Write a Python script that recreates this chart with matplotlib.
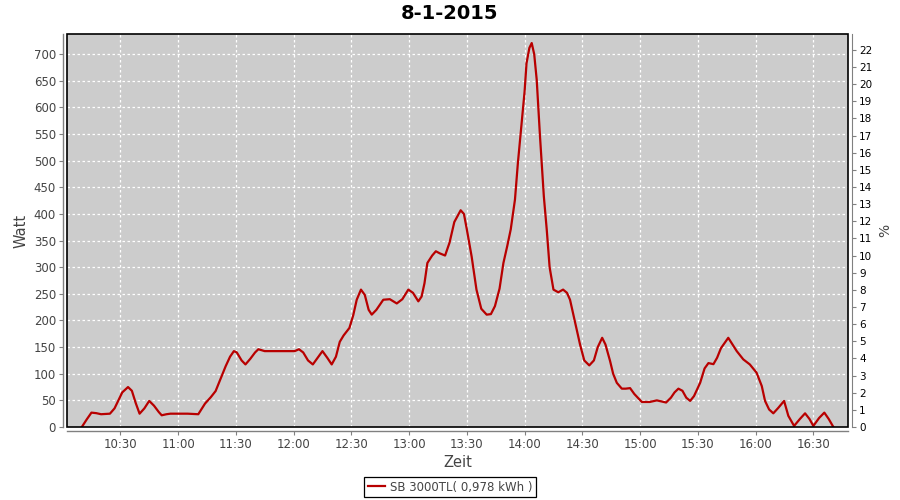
import matplotlib
matplotlib.use("Agg")
import matplotlib.pyplot as plt
from matplotlib.patches import Rectangle

# minutes after 10:00 and power in Watt
minutes = [10, 12.5, 15, 17.5, 20, 24.6, 27, 29, 31, 34, 36, 38, 40, 42.5, 45, 47.5, 50, 51.5,
           54, 56, 60, 65, 70.5, 74, 77, 79.5, 82, 84.7, 87, 89, 90.5, 93, 95, 97.5, 100, 101.7,
           105, 110, 115, 120.6, 122.8, 125, 127.5, 130, 132.5, 135, 137.5, 139.8, 142, 144, 146,
           149, 151, 152.8, 155, 157, 159, 160.6, 163, 166.6, 170, 173.6, 176.5, 179.6, 182,
           184.8, 186.5, 188, 189.5, 192, 193.9, 196, 198.7, 201, 203.5, 206.8, 208.5, 210,
           212.5, 215, 217.5, 220.3, 222.5, 224.6, 227, 229, 231, 232.8, 235, 236.5, 238.5, 240,
           241, 242.5, 243.7, 245, 246.3, 248, 250, 251.5, 253, 255, 257.5, 260, 262, 263.6, 266,
           268.8, 271, 273.6, 276, 278, 280.3, 282, 284.4, 286, 287.9, 290.5, 292.5, 294.8, 297,
           300.9, 305, 308.7, 311, 313.5, 316, 317.9, 319.9, 322, 324, 326, 328, 331.2, 333.5,
           335.5, 338.1, 340, 342, 345.8, 348, 350.2, 353.6, 357, 360.5, 363.2, 364.9, 367,
           369.2, 371.8, 374.8, 377, 380, 383, 385.7, 388, 390, 393, 395.7, 398, 400.4]
watt = [0, 14, 27, 26, 24, 25, 35, 50, 65, 75, 68, 45, 25, 35, 49, 40, 28, 22,
        24, 25, 25, 25, 24, 44, 56, 67.5, 90, 114, 132, 142.5, 140, 125, 117.5, 128, 140, 146,
        142.5, 142.5, 142.5, 142.5, 146, 140, 125, 117.5, 130, 142.5, 130, 117.5, 132, 160, 172,
        186, 210, 239, 258, 248, 220, 211, 220, 239, 240, 232, 240, 258, 252,
        236, 245, 270, 308, 322, 330, 326, 322, 346, 385, 407, 400, 371,
        320, 258, 222, 211, 212, 227, 260, 308, 340, 371, 427, 495, 571, 630,
        683, 712, 721, 700, 652, 546, 433, 371, 300, 258, 253, 258, 252, 239, 200,
        155, 125, 115.7, 125, 150, 167.5, 155, 124, 100, 83, 72, 72, 73, 62,
        47, 47, 50, 48, 46, 55, 65, 72, 68, 55, 49, 58, 83, 110,
        120, 118, 130, 148, 167.5, 155, 142.5, 127, 117.5, 102, 77, 49, 33,
        25.7, 36, 49, 21, 2, 15, 25.7, 15, 2, 17, 27, 15, 0]

tick_minutes = [30, 60, 90, 120, 150, 180, 210, 240, 270, 300, 330, 360, 390]
tick_labels = ["10:30", "11:00", "11:30", "12:00", "12:30", "13:00", "13:30",
               "14:00", "14:30", "15:00", "15:30", "16:00", "16:30"]
left_ticks = list(range(0, 701, 50))
right_ticks = list(range(0, 23))

title = "8-1-2015"
series_label = "SB 3000TL( 0,978 kWh )"

fig = plt.figure(figsize=(9, 5), dpi=100)
ax = fig.add_axes([67/900, 73/500, (848-67)/900, (427-34)/500])
ax.set_facecolor("#CCCCCC")
ax.plot(minutes, watt, color="#B80000", lw=1.6, label=series_label, zorder=3,
        solid_joinstyle="round")
ax.set_xlim(2.3, 408)
ax.set_ylim(0, 738)
ax.set_xticks(tick_minutes)
ax.set_xticklabels(tick_labels)
ax.set_yticks(left_ticks)
ax.grid(True, color="white", linestyle=(0, (2, 2)), linewidth=0.9)
ax.set_axisbelow(True)

for s in ["top", "right"]:
    ax.spines[s].set_visible(False)
for s in ["left", "bottom"]:
    ax.spines[s].set_position(("outward", 3))
    ax.spines[s].set_color("#808080")
    ax.spines[s].set_linewidth(1.0)
ax.tick_params(axis="both", direction="out", length=3, width=0.8, color="#808080",
               labelcolor="#444444", labelsize=8.5, pad=2)
ax.add_patch(Rectangle((0, 0), 1, 1, transform=ax.transAxes, fill=False,
                       edgecolor="black", linewidth=1.2, zorder=5, clip_on=False))

ax.set_xlabel("Zeit", fontsize=10.5, color="#444444", labelpad=3)
ax.set_ylabel("Watt", fontsize=10.5, color="#444444", labelpad=4)

ax2 = ax.twinx()
ax2.set_ylim(0, 22.93)
ax2.set_yticks(right_ticks)
for s in ["top", "left", "bottom"]:
    ax2.spines[s].set_visible(False)
ax2.spines["right"].set_position(("outward", 3))
ax2.spines["right"].set_color("#808080")
ax2.tick_params(axis="y", direction="out", length=3, width=0.8, color="#808080",
                labelcolor="black", labelsize=7.5, pad=2)
ax2.set_ylabel("%", fontsize=10, color="#444444", labelpad=4)

fig.suptitle(title, fontsize=14, fontweight="bold", y=0.992, x=0.5)

leg = fig.legend(loc="center", bbox_to_anchor=(0.5, 0.026), fontsize=8.5, frameon=True,
                 fancybox=False, edgecolor="black", framealpha=1, borderpad=0.3,
                 handlelength=1.5, handletextpad=0.4)
leg.get_frame().set_linewidth(0.9)
for t in leg.get_texts():
    t.set_color("#444444")

fig.savefig("out.png", dpi=100)
